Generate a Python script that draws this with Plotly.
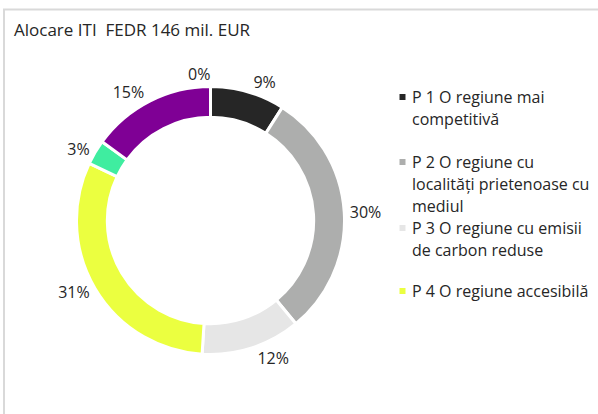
import plotly.graph_objects as go

labels = ["P 1 O regiune mai competitivă",
          "P 2 O regiune cu localități prietenoase cu mediul",
          "P 3 O regiune cu emisii de carbon reduse",
          "P 4 O regiune accesibilă",
          "P 5",
          "P 6",
          "P 7"]
values = [9, 30, 12, 31, 3, 15, 0]
colors = ["#262626", "#ADAEAD", "#E6E6E6", "#EBFF40", "#3FEDA0", "#7F0095", "#4A7EBB"]

legend_lines = [["P 1 O regiune mai", "competitivă"],
                ["P 2 O regiune cu", "localități prietenoase cu", "mediul"],
                ["P 3 O regiune cu emisii", "de carbon reduse"],
                ["P 4 O regiune accesibilă"]]
legend_y = [97, 162, 228, 291]

W, H = 598, 414
FONT = "Open Sans"
TXT = "#262626"

cx, cy, r = 210.5, 220.5, 134
fig = go.Figure()
fig.add_trace(go.Pie(
    labels=labels, values=values, sort=False, direction="clockwise", rotation=0,
    hole=0.77,
    marker=dict(colors=colors, line=dict(color="white", width=3)),
    texttemplate="%{percent:.0%}",
    textposition=["outside" if v > 0 else "none" for v in values],
    textfont=dict(family=FONT, size=16, color=TXT),
    domain=dict(x=[(cx - r) / W, (cx + r) / W], y=[(H - cy - r) / H, (H - cy + r) / H]),
    showlegend=False, hoverinfo="label+percent",
))

ann = [dict(text="Alocare ITI  FEDR 146 mil. EUR", x=12 / W, y=1 - 30 / H,
            xref="paper", yref="paper", xanchor="left", yanchor="middle",
            showarrow=False, font=dict(family=FONT, size=17, color=TXT))]
# label of the zero-value slice (plotly would attach a leader line)
for lab, v in zip(labels, values):
    if v == 0:
        ann.append(dict(text=f"{v}%", x=(cx + 1) / W, y=1 - 74 / H, xref="paper", yref="paper",
                        xanchor="right", yanchor="middle", showarrow=False,
                        font=dict(family=FONT, size=16, color=TXT)))
shapes = [
    dict(type="line", xref="paper", yref="paper", x0=3 / W, x1=1, y0=1 - 9.5 / H, y1=1 - 9.5 / H,
         line=dict(color="#D9D9D9", width=2)),
    dict(type="line", xref="paper", yref="paper", x0=4 / W, x1=4 / W, y0=0, y1=1 - 9 / H,
         line=dict(color="#D9D9D9", width=2)),
]
for lines, y0, c in zip(legend_lines, legend_y, colors):
    for i, ln in enumerate(lines):
        ann.append(dict(text=ln, x=410 / W, y=1 - (y0 + 22 * i) / H, xref="paper", yref="paper",
                        xanchor="left", yanchor="middle", showarrow=False,
                        font=dict(family=FONT, size=16, color=TXT)))
    shapes.append(dict(type="rect", xref="paper", yref="paper",
                       x0=399.5 / W, x1=405.5 / W, y0=1 - (y0 - 3) / H, y1=1 - (y0 + 3) / H,
                       fillcolor=c, line=dict(width=0)))

fig.update_layout(width=W, height=H, margin=dict(l=0, r=0, t=0, b=0),
                  paper_bgcolor="white", plot_bgcolor="white",
                  annotations=ann, shapes=shapes)
fig.write_html("out.html", config={"displayModeBar": False},
               post_script="document.body.style.margin='0';")
